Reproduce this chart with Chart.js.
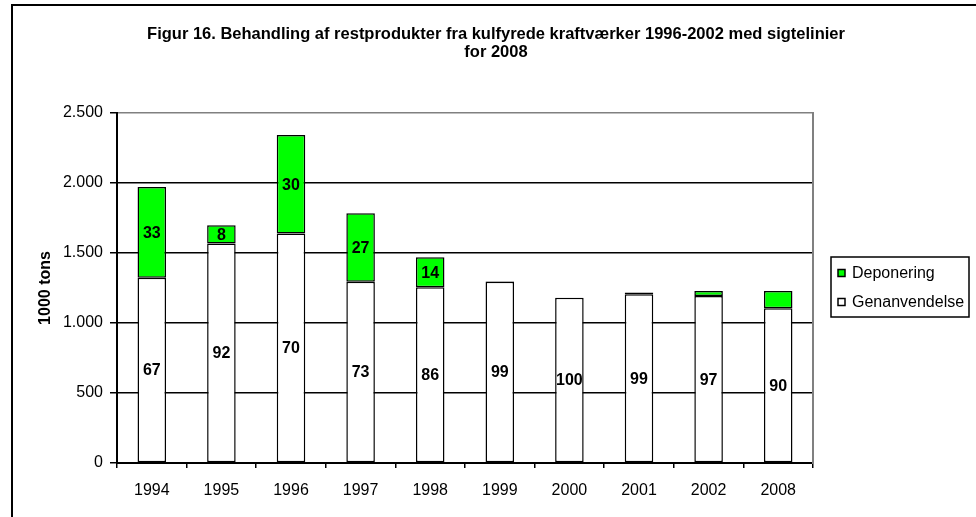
<!DOCTYPE html>
<html>
<head>
<meta charset="utf-8">
<script src="https://cdn.jsdelivr.net/npm/chart.js@4.4.1/dist/chart.umd.min.js"></script>
<style>
  html, body { margin: 0; padding: 0; background: #fff; overflow: hidden; }
  #wrap { position: relative; width: 976px; height: 517px; }
  #frame { position: absolute; left: 11px; top: 4px; width: 2000px; height: 2000px;
           border-left: 2px solid #000; border-top: 2px solid #000; }
  canvas { position: absolute; left: 0; top: 0; }
</style>
</head>
<body>
<div id="wrap">
  <div id="frame"></div>
  <canvas id="chart" width="976" height="517"></canvas>
</div>
<script>
var years = ['1994', '1995', '1996', '1997', '1998', '1999', '2000', '2001', '2002', '2008'];
// 1000 tons
var genanvendelse = [1324, 1567, 1640, 1295, 1255, 1295, 1181, 1205, 1193, 1105];
var deponering = [647, 131, 703, 488, 214, 4, 0, 12, 36, 123];
// percentage labels shown in the bars
var genPct = [67, 92, 70, 73, 86, 99, 100, 99, 97, 90];
var depPct = [33, 8, 30, 27, 14, null, null, null, null, null];
var yTicks = ['0', '500', '1.000', '1.500', '2.000', '2.500'];

var FONT = '"Liberation Sans", Arial, sans-serif';
Chart.defaults.color = '#000';
Chart.defaults.font.family = FONT;

// percentage labels inside the bar segments
var barLabels = {
    id: 'barLabels',
    afterDatasetsDraw: function(chart) {
        var ctx = chart.ctx;
        var pcts = [genPct, depPct];
        ctx.save();
        ctx.font = 'bold 16px ' + FONT;
        ctx.fillStyle = '#000';
        ctx.textAlign = 'center';
        ctx.textBaseline = 'middle';
        chart.data.datasets.forEach(function(ds, i) {
            var meta = chart.getDatasetMeta(i);
            meta.data.forEach(function(bar, j) {
                var v = pcts[i][j];
                if (v == null) return;
                var p = bar.getProps(['x', 'y', 'base'], true);
                ctx.fillText(String(v), p.x, (p.y + p.base) / 2 + 1);
            });
        });
        ctx.restore();
    }
};

// boxed legend on the right
var boxLegend = {
    id: 'boxLegend',
    afterDraw: function(chart) {
        var ctx = chart.ctx;
        ctx.save();
        ctx.strokeStyle = '#000';
        ctx.lineWidth = 1.5;
        ctx.strokeRect(831, 257, 138, 60);
        var items = [chart.data.datasets[1], chart.data.datasets[0]];
        var ys = [273, 302];
        ctx.font = '16px ' + FONT;
        ctx.textBaseline = 'middle';
        items.forEach(function(ds, i) {
            ctx.fillStyle = ds.backgroundColor;
            ctx.fillRect(838, ys[i] - 3.5, 7, 7);
            ctx.lineWidth = 1.5;
            ctx.strokeRect(838, ys[i] - 3.5, 7, 7);
            ctx.fillStyle = '#000';
            ctx.fillText(ds.label, 852, ys[i] + 1);
        });
        ctx.restore();
    }
};

var ctx = document.getElementById('chart').getContext('2d');
var myChart = new Chart(ctx, {
    type: 'bar',
    data: {
        labels: years,
        datasets: [
            {
                label: 'Genanvendelse',
                data: genanvendelse,
                backgroundColor: '#ffffff',
                borderColor: '#000',
                borderWidth: 1.5,
                borderSkipped: false,
                barPercentage: 0.41,
                categoryPercentage: 1
            },
            {
                label: 'Deponering',
                data: deponering,
                backgroundColor: '#00ff00',
                borderColor: '#000',
                borderWidth: 1.5,
                borderSkipped: false,
                barPercentage: 0.41,
                categoryPercentage: 1
            }
        ]
    },
    options: {
        responsive: false,
        animation: false,
        layout: { padding: { left: 16, top: 0, right: 0, bottom: 0 } },
        plugins: {
            legend: { display: false },
            tooltip: { enabled: false },
            title: {
                display: true,
                text: ['Figur 16. Behandling af restprodukter fra kulfyrede kraftværker 1996-2002 med sigtelinier', 'for 2008'],
                font: { size: 16.5, weight: 'bold', lineHeight: 1.06 },
                color: '#000',
                padding: { top: 26, bottom: 52 }
            }
        },
        scales: {
            x: {
                stacked: true,
                grid: { display: true, drawOnChartArea: false, drawTicks: true, tickLength: 5, color: '#000', lineWidth: 1.5 },
                border: { color: '#000', width: 2 },
                ticks: { font: { size: 16 }, color: '#000', padding: 13, maxRotation: 0 },
                afterFit: function(scale) { scale.height = 54; }
            },
            y: {
                stacked: true,
                min: 0,
                max: 2500,
                ticks: {
                    stepSize: 500,
                    font: { size: 16 },
                    color: '#000',
                    padding: 7,
                    callback: function(v) { return yTicks[Math.round(v / 500)]; }
                },
                grid: {
                    color: function(c) { return c.tick && c.tick.value === 2500 ? '#808080' : '#000'; },
                    tickColor: '#000',
                    lineWidth: 1.5,
                    tickLength: 7
                },
                border: { color: '#000', width: 2 },
                title: {
                    display: true,
                    text: '1000 tons',
                    font: { size: 16, weight: 'bold', lineHeight: 1.2 },
                    color: '#000',
                    padding: { top: 19.5, bottom: 0 }
                },
                afterFit: function(scale) { scale.width = 101; }
            },
            yRight: {
                position: 'right',
                display: true,
                grid: { display: false },
                ticks: { display: false },
                border: { color: '#808080', width: 2 },
                afterFit: function(scale) { scale.width = 163; }
            }
        }
    },
    plugins: [barLabels, boxLegend]
});
</script>
</body>
</html>
